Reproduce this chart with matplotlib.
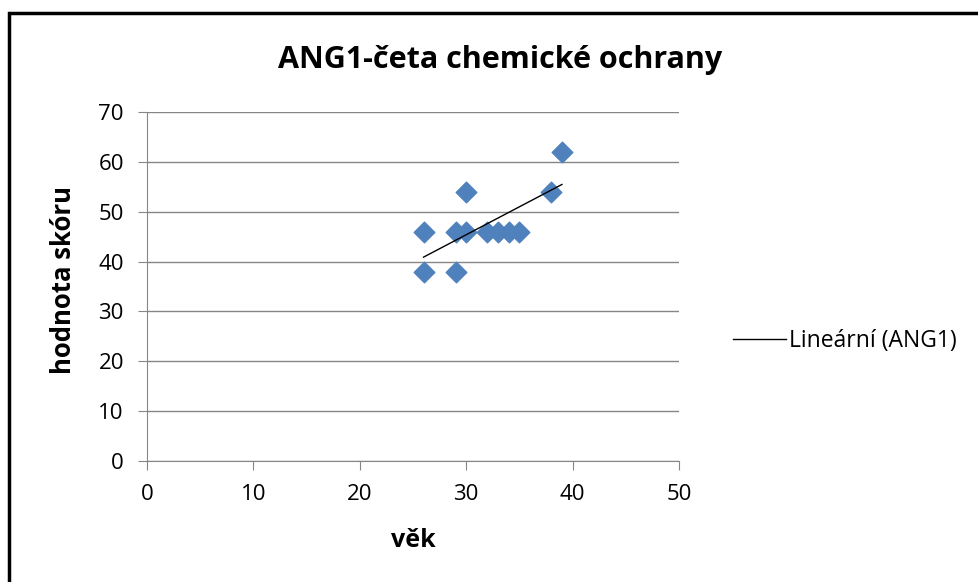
import matplotlib.pyplot as plt
import matplotlib.patches as patches
import numpy as np

# data
vek = [26, 26, 29, 29, 30, 30, 32, 33, 34, 35, 38, 39]
skore = [46, 38, 46, 38, 54, 46, 46, 46, 46, 46, 54, 62]

plt.rcParams['font.family'] = ['Open Sans', 'DejaVu Sans']

fig = plt.figure(figsize=(9.79, 5.82), dpi=100)
ax = fig.add_axes([0.150, 0.208, 0.5436, 0.5996])

# body of the chart
ax.scatter(vek, skore, marker='D', s=110, color='#4F81BD', zorder=3, label='_nolegend_')

# linear trend
k, q = np.polyfit(vek, skore, 1)
xs = np.array([min(vek), max(vek)])
ax.plot(xs, k * xs + q, color='black', lw=1, zorder=4, label='Lineární (ANG1)')

ax.set_xlim(0, 50)
ax.set_ylim(0, 70)
ax.set_xticks(range(0, 51, 10))
ax.set_yticks(range(0, 71, 10))
ax.yaxis.grid(True, color='#868686', lw=1)
ax.set_axisbelow(True)
for s in ['top', 'right']:
    ax.spines[s].set_visible(False)
for s in ['left', 'bottom']:
    ax.spines[s].set_color('#868686')
ax.tick_params(direction='out', length=6.5, color='#868686', labelsize=16)
ax.tick_params(axis='x', pad=10)
ax.tick_params(axis='y', pad=10)

fig.text(0.511, 0.897, 'ANG1-četa chemické ochrany', fontsize=22, fontweight='bold',
         ha='center', va='center')
ax.set_xlabel('věk', fontsize=18, fontweight='bold')
ax.set_ylabel('hodnota skóru', fontsize=18.5, fontweight='bold')
ax.xaxis.set_label_coords(0.5, -0.192)
ax.yaxis.set_label_coords(-0.132, 0.519)

fig.legend(loc='center left', bbox_to_anchor=(0.749, 0.414), frameon=False,
           fontsize=16.5, handlelength=2.3, handletextpad=0.15, borderpad=0, borderaxespad=0)

# outer frame of the chart object (cut off right and bottom)
fig.patches.append(patches.Rectangle((0.009, -0.1), 1.1, 1.078, transform=fig.transFigure,
                                     fill=False, edgecolor='black', lw=2.5))

plt.savefig('out.png')
